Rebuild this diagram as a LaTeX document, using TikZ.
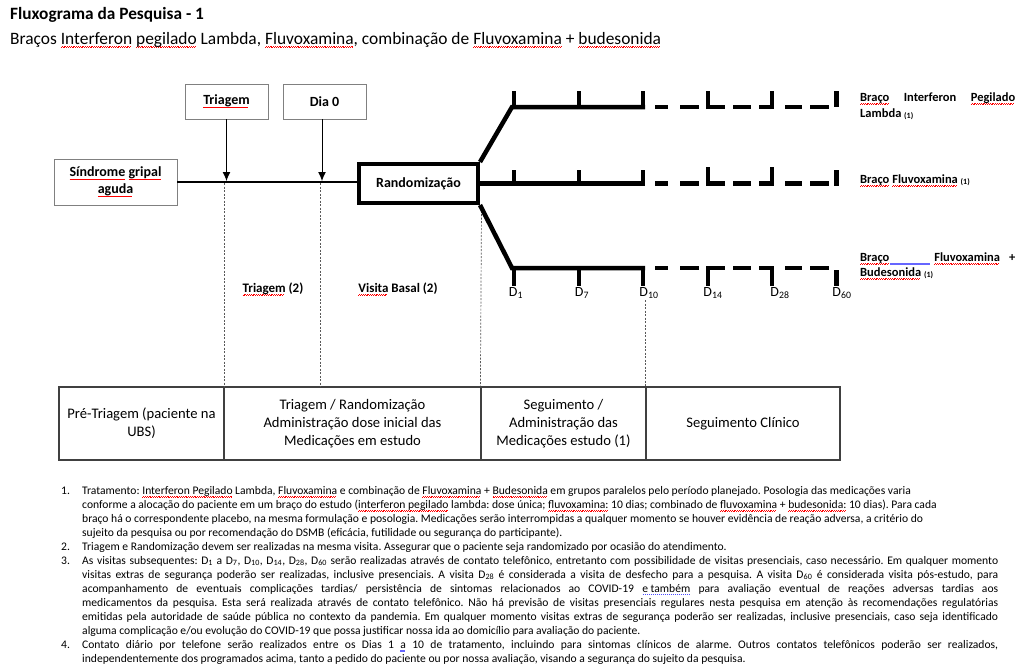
\documentclass[tikz,border=0pt]{standalone}
\usepackage{fontspec}
\setmainfont{Carlito}
\usetikzlibrary{arrows.meta}
\frenchspacing
\newcommand\wv[1]{\leavevmode\setbox0\hbox{#1}\rlap{\hbox to\wd0{\color{red}\leaders\hbox{\rule[-2.9pt]{.9pt}{.4pt}\rule[-2.45pt]{.9pt}{.4pt}}\hfill}}\box0\relax}
\newcommand\bdot[1]{\leavevmode\setbox0\hbox{#1}\rlap{\hbox to\wd0{\color{blue!70}\leaders\hbox{\kern.5pt\rule[-2.6pt]{1pt}{.6pt}\kern.5pt}\hfill}}\box0\relax}
\newcommand\bdbl[1]{\leavevmode\setbox0\hbox{#1}\rlap{\hbox to\wd0{\color{blue!60}\leaders\hbox{\lower3.2pt\vbox{\hrule width 1pt height .45pt\vskip .8pt\hrule width 1pt height .45pt}}\hfill}}\box0\relax}
\newcommand\sub[1]{\textsubscript{#1}}
\newcommand\jl[1]{\hbox to 916pt{#1}}
\tikzset{
  graybox/.style={draw=black!50, line width=0.9pt, inner sep=0pt, align=center,
    font=\fontsize{14}{17}\selectfont\bfseries},
  randbox/.style={draw=black, line width=4pt, inner sep=0pt,
    font=\fontsize{14}{17}\selectfont\bfseries},
  cell/.style={draw=black!75, line width=1.2pt, inner sep=0pt, align=center,
    minimum height=73pt, font=\fontsize{14.6}{18}\selectfont},
  arm/.style={line width=4.5pt, line cap=butt, line join=miter},
  tk/.style={line width=4pt, line cap=butt},
  bar/.style={line width=5pt, line cap=butt},
  vdash/.style={draw=black!65, line width=0.7pt, dash pattern=on 2pt off 1.5pt},
  arr/.style={line width=1pt, -{Latex[length=9pt,width=8pt]}},
  dlab/.style={inner sep=0pt, font=\fontsize{14}{16}\selectfont},
  armlab/.style={inner sep=0pt, anchor=base west, font=\fontsize{12.5}{14}\selectfont\bfseries},
  note/.style={inner sep=0pt, anchor=base west, font=\fontsize{11.6}{13}\selectfont\frenchspacing},
  midlab/.style={inner sep=0pt, font=\fontsize{13}{15}\selectfont\bfseries}
}
\begin{document}
\begin{tikzpicture}[x=1pt,y=-1pt]
\useasboundingbox (0,0) rectangle (1017,665);
\fill[white] (0,0) rectangle (1017,665);

% titles
\node[inner sep=0pt, anchor=base west, font=\fontsize{17.3}{20}\selectfont\bfseries] (title) at (10,19) {Fluxograma da Pesquisa - 1};
\node[inner sep=0pt, anchor=base west, font=\fontsize{17.4}{20}\selectfont] (subtitle) at (10,44) {Braços \wv{Interferon} \wv{pegilado} Lambda, \wv{Fluvoxamina}, combinação de \wv{Fluvoxamina} + \wv{budesonida}};

% boxes
\node[graybox, minimum width=123pt, minimum height=46pt] (sind) at (115.5,182) {\wv{Síndrome} \wv{gripal}\\\wv{aguda}};
\node[graybox, minimum width=83pt, minimum height=35pt] (tri) at (226.5,101.5) {\wv{Triagem}};
\node[graybox, minimum width=83pt, minimum height=35pt] (dia) at (324.5,101.5) {Dia 0};
\node[randbox, minimum width=119pt, minimum height=39pt] (rand) at (418.5,183.5) {Randomização};

% main line and arrows
\coordinate (ta) at (226.5,181);
\coordinate (da) at (322,181);
\draw[line width=1.2pt] (sind.east) -- (rand.west |- sind.east);
\draw[arr] (tri.south) -- (ta);
\draw[arr] (dia.south -| da) -- (da);

% table
\node[cell, minimum width=165pt] (c1) at (141.5,423.5) {Pré-Triagem (paciente na\\UBS)};
\node[cell, minimum width=257pt] (c2) at (352.5,423.5) {Triagem / Randomização\\Administração dose inicial das\\Medicações em estudo};
\node[cell, minimum width=165pt] (c3) at (563.5,423.5) {Seguimento /\\Administração das\\Medicações estudo (1)};
\node[cell, minimum width=194pt] (c4) at (743,423.5) {Seguimento Clínico};

% dashed verticals
\coordinate (v1) at (224,183);
\coordinate (v2) at (320,183);
\coordinate (v4) at (645,300);
\draw[vdash] (v1) -- (v1 |- c1.north);
\draw[vdash] (v2) -- (v2 |- c2.north);
\draw[vdash] (rand.south east) ++(1.5,2) -- (c3.north west);
\draw[vdash] (v4) -- (v4 |- c3.north);

% arms
\draw[arm] (rand.north east) -- (512,107) -- (645,107);
\draw[arm] (rand.east) -- (645,183.5);
\draw[arm] (rand.south east) -- (512,268) -- (645,268);
\foreach \a/\b in {655/668,680/699,706/725,733/751,759/774,785/802,810/829}{
  \draw[arm] (\a,107) -- (\b,107);
  \draw[arm] (\a,183.5) -- (\b,183.5);
  \draw[arm] (\a,268) -- (\b,268);
}
% ticks top
\foreach \x in {514,579,643,708,772} \draw[tk] (\x,109) -- (\x,91);
\draw[bar] (836,91) -- (836,107);
% ticks middle
\foreach \x in {514,579,643} \draw[tk] (\x,185.5) -- (\x,170);
\foreach \x in {708,772} \draw[tk] (\x,185.5) -- (\x,167);
\draw[bar] (836,170) -- (836,185.5);
% ticks bottom
\foreach \x in {514,579,643,708,772} \draw[tk] (\x,266) -- (\x,286);
\draw[bar] (836,270) -- (836,286);

% day labels
\node[dlab] (d1) at (516,293) {D\sub{1}};
\node[dlab] (d7) at (582,293) {D\sub{7}};
\node[dlab] (d10) at (649,293) {D\sub{10}};
\node[dlab] (d14) at (713,293) {D\sub{14}};
\node[dlab] (d28) at (780,293) {D\sub{28}};
\node[dlab] (d60) at (842,293) {D\sub{60}};

% arm labels
\node[armlab] (a1a) at (860,101) {\hbox to 155pt{\wv{Braço}\hfil Interferon\hfil \wv{Pegilado}}};
\node[armlab] (a1b) at (860,117) {Lambda {\fontsize{8}{9}\selectfont\raisebox{-1pt}{(1)}}};
\node[armlab] (a2) at (860,183) {\wv{Braço} \wv{Fluvoxamina} {\fontsize{8}{9}\selectfont\raisebox{-1pt}{(1)}}};
\node[armlab] (a3a) at (860,261) {\hbox to 155pt{\wv{Braço}{\color{blue!60}\leaders\hbox{\lower3.2pt\vbox{\hrule width 1pt height .45pt\vskip .8pt\hrule width 1pt height .45pt}}\hfill}\hskip4pt\wv{Fluvoxamina}\hskip 9pt +}};
\node[armlab] (a3b) at (860,276) {\wv{Budesonida} {\fontsize{8}{9}\selectfont\raisebox{-1pt}{(1)}}};

% phase labels
\node[midlab] (ptri) at (273,289) {\wv{Triagem} (2)};
\node[midlab] (pvis) at (398,289) {\wv{Visita} Basal (2)};

% notes
\node[note] (n1) at (61,494) {1.};
\node[note] (n2) at (61,550) {2.};
\node[note] (n3) at (61,564) {3.};
\node[note] (n4) at (61,648) {4.};
\node[note] (l1) at (82,494) {Tratamento: \wv{Interferon Pegilado} Lambda, \wv{Fluvoxamina} e combinação de \wv{Fluvoxamina} + \wv{Budesonida} em grupos paralelos pelo período planejado. Posologia das medicações varia};
\node[note] (l2) at (82,508) {conforme a alocação do paciente em um braço do estudo (\wv{interferon pegilado} lambda: dose única; \wv{fluvoxamina:} 10 dias; combinado de \wv{fluvoxamina} + \wv{budesonida:} 10 dias). Para cada};
\node[note] (l3) at (82,522) {braço há o correspondente placebo, na mesma formulação e posologia. Medicações serão interrompidas a qualquer momento se houver evidência de reação adversa, a critério do};
\node[note] (l4) at (82,536) {sujeito da pesquisa ou por recomendação do DSMB (eficácia, futilidade ou segurança do participante).};
\node[note] (l5) at (82,550) {Triagem e Randomização devem ser realizadas na mesma visita. Assegurar que o paciente seja randomizado por ocasião do atendimento.};
\node[note] (l6) at (82,564) {\jl{As visitas subsequentes: D\sub{1} a D\sub{7}, D\sub{10}, D\sub{14}, D\sub{28}, D\sub{60} serão realizadas através de contato telefônico, entretanto com possibilidade de visitas presenciais, caso necessário. Em qualquer momento}};
\node[note] (l7) at (82,578) {\jl{visitas extras de segurança poderão ser realizadas, inclusive presenciais. A visita D\sub{28} é considerada a visita de desfecho para a pesquisa. A visita D\sub{60} é considerada visita pós-estudo, para}};
\node[note] (l8) at (82,592) {\jl{acompanhamento de eventuais complicações tardias/ persistência de sintomas relacionados ao COVID-19 \bdot{e também} para avaliação eventual de reações adversas tardias aos}};
\node[note] (l9) at (82,606) {\jl{medicamentos da pesquisa. Esta será realizada através de contato telefônico. Não há previsão de visitas presenciais regulares nesta pesquisa em atenção às recomendações regulatórias}};
\node[note] (l10) at (82,620) {\jl{emitidas pela autoridade de saúde pública no contexto da pandemia. Em qualquer momento visitas extras de segurança poderão ser realizadas, inclusive presenciais, caso seja identificado}};
\node[note] (l11) at (82,634) {alguma complicação e/ou evolução do COVID-19 que possa justificar nossa ida ao domicílio para avaliação do paciente.};
\node[note] (l12) at (82,648) {\jl{Contato diário por telefone serão realizados entre os Dias 1 \bdbl{a} 10 de tratamento, incluindo para sintomas clínicos de alarme. Outros contatos telefônicos poderão ser realizados,}};
\node[note] (l13) at (82,662) {independentemente dos programados acima, tanto a pedido do paciente ou por nossa avaliação, visando a segurança do sujeito da pesquisa.};
\end{tikzpicture}
\end{document}
